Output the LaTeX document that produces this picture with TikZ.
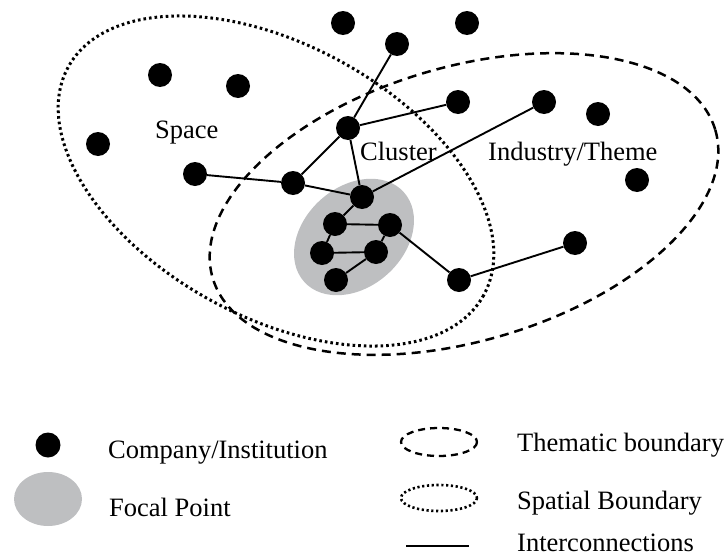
\documentclass[tikz,border=0pt]{standalone}
\usepackage{fontspec}
\setmainfont{Liberation Serif}
\definecolor{focalgray}{RGB}{190,191,193}
\begin{document}
\begin{tikzpicture}[x=1pt,y=-1pt,
  firm/.style={circle,fill=black,inner sep=0pt,minimum size=24pt},
  link/.style={line width=1.9pt},
  thematic/.style={line width=2.5pt,dash pattern=on 9pt off 6pt},
  spatial/.style={line width=3pt,dash pattern=on 2.6pt off 3pt},
  smallthematic/.style={line width=2.3pt,dash pattern=on 7pt off 5pt},
  smallspatial/.style={line width=2.6pt,dash pattern=on 2.2pt off 2.6pt},
  lbl/.style={anchor=base west,inner sep=0pt,font=\fontsize{26.5}{30}\selectfont}]
\useasboundingbox (0,0) rectangle (726,557);

% focal point of the cluster
\fill[focalgray,rotate around={42:(354,237)}] (354,237) ellipse [x radius=67,y radius=50];

% spatial and thematic boundaries
\draw[spatial,rotate around={-28.8:(276,181)}] (276,181) ellipse [x radius=237,y radius=136];
\draw[thematic,rotate around={16.4:(464,204)}] (464,204) ellipse [x radius=262,y radius=137];

% companies and institutions
\node[firm] (t1) at (343,23) {};
\node[firm] (t2) at (467,23) {};
\node[firm] (a)  at (397,44) {};
\node[firm] (s1) at (160,75) {};
\node[firm] (s2) at (238,86) {};
\node[firm] (s3) at (98,144) {};
\node[firm] (b)  at (195,174) {};
\node[firm] (c)  at (293,183) {};
\node[firm] (d)  at (348,128) {};
\node[firm] (e)  at (458,102) {};
\node[firm] (f)  at (544,102) {};
\node[firm] (i1) at (598,114) {};
\node[firm] (i2) at (637,180) {};
\node[firm] (g)  at (575,243) {};
\node[firm] (h)  at (459,280) {};
\node[firm] (k)  at (362,197) {};
\node[firm] (m1) at (335,224) {};
\node[firm] (m2) at (390,225) {};
\node[firm] (m3) at (322,253) {};
\node[firm] (m4) at (376,252) {};
\node[firm] (m5) at (336,280) {};

% interconnections
\draw[link] (a) -- (d);
\draw[link] (d) -- (e);
\draw[link] (d) -- (c);
\draw[link] (d) -- (k);
\draw[link] (b) -- (c);
\draw[link] (c) -- (k);
\draw[link] (k) -- (f);
\draw[link] (k) -- (m1);
\draw[link] (m1) -- (m2);
\draw[link] (m1) -- (m3);
\draw[link] (m3) -- (m4);
\draw[link] (m4) -- (m2);
\draw[link] (m4) -- (m5);
\draw[link] (m2) -- (h);
\draw[link] (h) -- (g);

% area labels
\node[lbl] (space) at (155,138) {Space};
\node[lbl] (cluster) at (360,160) {Cluster};
\node[lbl] (theme) at (488,160) {Industry/Theme};

% legend
\node[firm,minimum size=25pt] (lgfirm) at (48,445) {};
\fill[focalgray] (48,499) ellipse [x radius=34,y radius=27];
\draw[smallthematic] (439,442) ellipse [x radius=38,y radius=14];
\draw[smallspatial] (439,498) ellipse [x radius=38,y radius=13];
\coordinate (lgl1) at (406,546);
\coordinate (lgl2) at (469,546);
\draw[link] (lgl1) -- (lgl2);
\node[lbl] (lgt1) at (108,458) {Company/Institution};
\node[lbl] (lgt2) at (109,516) {Focal Point};
\node[lbl] (lgt3) at (517,451) {Thematic boundary};
\node[lbl] (lgt4) at (517,509) {Spatial Boundary};
\node[lbl] (lgt5) at (517,551) {Interconnections};
\end{tikzpicture}
\end{document}
